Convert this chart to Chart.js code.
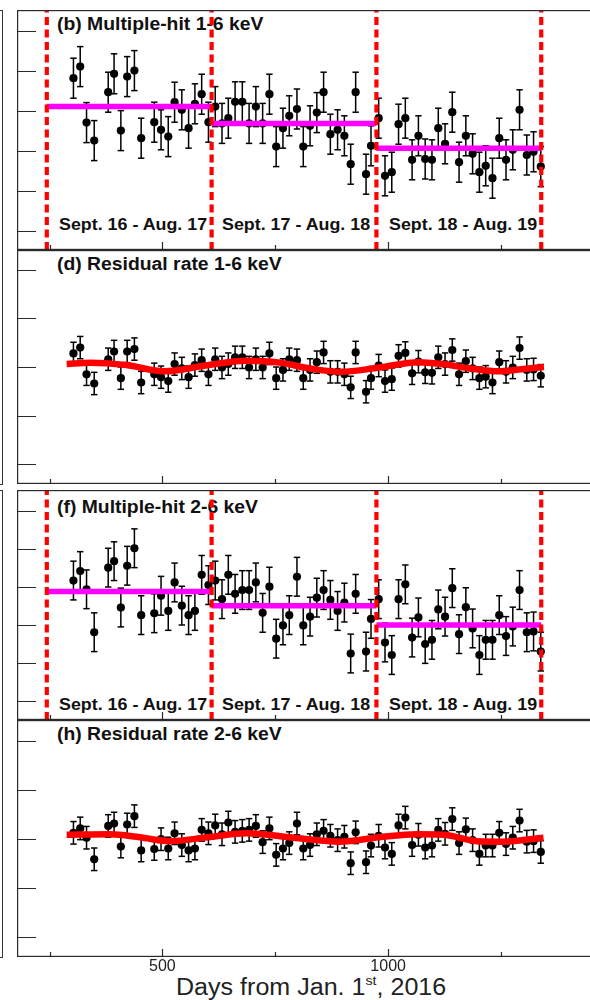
<!DOCTYPE html>
<html>
<head>
<meta charset="utf-8">
<script src="https://cdn.jsdelivr.net/npm/chart.js@4.4.1/dist/chart.umd.min.js"></script>
<style>
  html, body { margin: 0; padding: 0; background: #fff; }
  body { position: relative; width: 590px; height: 1000px; overflow: hidden;
         font-family: "Liberation Sans", Arial, Helvetica, sans-serif; }
  canvas { position: absolute; left: 17px; z-index: 2; }
  .nb { position: absolute; left: -21px; width: 22px; border: 1px solid #333; z-index: 0; }
  .txt { position: absolute; z-index: 1; white-space: nowrap; line-height: 1; color: #111;
         transform-origin: 0 0; }
  .title { font-weight: bold; font-size: 18px; transform: scaleX(1.075); }
  .period { font-weight: bold; font-size: 17px; transform: scaleX(1.05); }
  .axis { font-size: 23px; color: #222; transform: scaleX(1.09); }
  .axis span { font-size: 13px; position: relative; top: -10px; }
</style>
</head>
<body>
<div class="nb" style="top:10px;height:473px"></div>
<div class="nb" style="top:490px;height:466px"></div>

<div class="txt title" style="left:57px;top:14.8px">(b) Multiple-hit 1-6 keV</div>
<div class="txt title" style="left:57px;top:254.8px">(d) Residual rate 1-6 keV</div>
<div class="txt title" style="left:57px;top:497.8px">(f) Multiple-hit 2-6 keV</div>
<div class="txt title" style="left:57px;top:724.8px">(h) Residual rate 2-6 keV</div>

<div class="txt period" style="left:59px;top:216.3px">Sept. 16 - Aug. 17</div>
<div class="txt period" style="left:222px;top:216.3px">Sept. 17 - Aug. 18</div>
<div class="txt period" style="left:389px;top:216.3px">Sept. 18 - Aug. 19</div>
<div class="txt period" style="left:59px;top:696.3px">Sept. 16 - Aug. 17</div>
<div class="txt period" style="left:222px;top:696.3px">Sept. 17 - Aug. 18</div>
<div class="txt period" style="left:389px;top:696.3px">Sept. 18 - Aug. 19</div>

<div class="txt axis" style="left:176px;top:975.5px">Days from Jan. 1<span>st</span>, 2016</div>

<canvas id="panelB" width="587" height="240" style="top:10px"></canvas>
<canvas id="panelD" width="587" height="234" style="top:250px"></canvas>
<canvas id="panelF" width="587" height="230" style="top:490px"></canvas>
<canvas id="panelH" width="587" height="267" style="top:720px"></canvas>

<script>
// ---- time axis (days from Jan. 1st, 2016) ----
const X_MIN = 178, X_MAX = 1478;
const X_MAJOR_TICKS = [500, 1000];
const X_MINOR_TICKS = [250, 750, 1250];
const X_LABELS = [500, 1000];
// starts of Sept. 2016, 2017, 2018, 2019
const YEAR_EDGES = [244, 609, 974, 1339];

// bin centres
const DAYS = [303, 318, 332, 349, 380, 393, 408, 422, 438, 453,
              482, 497, 513, 527, 543, 558, 572, 587, 602, 617,
              632, 646, 661, 677, 692, 707, 722, 737, 752, 767,
              781, 798, 812, 827, 842, 857, 872, 888, 903, 917,
              928, 951, 962, 979, 993, 1008, 1023, 1038, 1053, 1067,
              1082, 1097, 1111, 1126, 1142, 1157, 1172, 1187, 1202, 1216,
              1231, 1246, 1261, 1276, 1291, 1307, 1322, 1338];

// (b) multiple-hit rate, 1-6 keV
const RATE_1_6 = [4.82, 5.11, 3.71, 3.26, 4.47, 4.93, 3.51, 4.86, 5.01, 3.32,
                  3.72, 3.53, 3.36, 4.22, 4.03, 3.57, 4.18, 4.42, 3.72, 4.11,
                  3.69, 3.82, 4.23, 4.23, 3.69, 4.11, 3.69, 4.42, 3.11, 3.57,
                  3.88, 4.05, 3.11, 3.63, 3.96, 4.47, 3.42, 3.53, 3.38, 2.67,
                  4.47, 2.42, 3.13, 3.82, 2.38, 2.47, 3.67, 3.82, 2.78, 3.38,
                  2.80, 2.78, 3.57, 3.18, 3.97, 2.72, 3.38, 2.93, 2.47, 2.63,
                  2.32, 3.32, 2.78, 3.03, 4.03, 2.90, 2.98, 2.61];
const ERR_1_6 = [0.5, 0.5, 0.5, 0.5, 0.5, 0.5, 0.5, 0.5, 0.5, 0.5,
                 0.5, 0.5, 0.5, 0.5, 0.5, 0.5, 0.5, 0.5, 0.5, 0.5,
                 0.5, 0.5, 0.5, 0.5, 0.5, 0.5, 0.5, 0.5, 0.5, 0.5,
                 0.5, 0.5, 0.5, 0.5, 0.5, 0.5, 0.5, 0.5, 0.5, 0.5,
                 0.5, 0.5, 0.5, 0.5, 0.5, 0.5, 0.5, 0.5, 0.5, 0.5,
                 0.5, 0.5, 0.5, 0.5, 0.5, 0.5, 0.5, 0.5, 0.5, 0.5,
                 0.5, 0.5, 0.5, 0.5, 0.5, 0.5, 0.5, 0.5];
const YEAR_MEAN_1_6 = [4.11, 3.69, 3.07];

// (d) residual rate, 1-6 keV
const RESID_1_6 = [0.28, 0.40, -0.15, -0.34, 0.16, 0.32, -0.23, 0.32, 0.37, -0.32,
                   -0.15, -0.21, -0.29, 0.06, -0.03, -0.21, 0.04, 0.14, -0.15, 0.16,
                   -0.01, 0.06, 0.20, 0.20, -0.01, 0.16, -0.01, 0.28, -0.23, -0.06,
                   0.16, 0.14, -0.23, -0.06, 0.10, 0.30, -0.10, -0.10, -0.15, -0.42,
                   0.30, -0.51, -0.23, 0.03, -0.29, -0.25, 0.23, 0.29, -0.13, 0.11,
                   -0.11, -0.12, 0.20, 0.06, 0.35, -0.15, 0.12, -0.03, -0.23, -0.20,
                   -0.32, 0.10, -0.10, -0.01, 0.39, -0.06, -0.05, -0.18];
const RESID_ERR_1_6 = [0.23, 0.23, 0.23, 0.23, 0.23, 0.23, 0.23, 0.23, 0.23, 0.23,
                       0.23, 0.23, 0.23, 0.23, 0.23, 0.23, 0.23, 0.23, 0.23, 0.23,
                       0.23, 0.23, 0.23, 0.23, 0.23, 0.23, 0.23, 0.23, 0.23, 0.23,
                       0.23, 0.23, 0.23, 0.23, 0.23, 0.23, 0.23, 0.23, 0.23, 0.23,
                       0.23, 0.23, 0.23, 0.23, 0.23, 0.23, 0.23, 0.23, 0.23, 0.23,
                       0.23, 0.23, 0.23, 0.23, 0.23, 0.23, 0.23, 0.23, 0.23, 0.23,
                       0.23, 0.23, 0.23, 0.23, 0.23, 0.23, 0.23, 0.23];
const FIT_DAYS_1_6 = [288, 340, 420, 505, 595, 685, 760, 827, 895, 980, 1067, 1120, 1182, 1245, 1290, 1345];
const FIT_1_6 = [0.06, 0.09, 0.04, -0.09, 0.03, 0.13, 0.09, -0.03, -0.10, -0.01, 0.10, 0.06, -0.03, -0.09, -0.05, 0.00];

// (f) multiple-hit rate, 2-6 keV
const RATE_2_6 = [4.17, 4.42, 3.94, 2.81, 4.51, 4.68, 3.46, 4.56, 5.02, 3.26,
                  3.31, 3.77, 3.37, 4.12, 3.51, 3.26, 3.37, 4.32, 4.05, 4.17,
                  3.68, 4.32, 3.82, 3.92, 3.92, 4.12, 3.32, 4.01, 2.64, 2.99,
                  3.26, 4.27, 2.99, 3.22, 3.72, 3.92, 3.66, 3.37, 3.59, 2.25,
                  3.82, 2.30, 3.16, 3.68, 2.54, 2.21, 3.68, 4.07, 2.67, 3.20,
                  2.50, 2.61, 3.41, 3.22, 3.97, 2.76, 3.47, 2.91, 2.21, 2.61,
                  2.61, 3.26, 2.71, 2.96, 3.92, 2.81, 2.83, 2.30];
const ERR_2_6 = [0.51, 0.51, 0.51, 0.51, 0.51, 0.51, 0.51, 0.51, 0.51, 0.51,
                 0.51, 0.51, 0.51, 0.51, 0.51, 0.51, 0.51, 0.51, 0.51, 0.51,
                 0.51, 0.51, 0.51, 0.51, 0.51, 0.51, 0.51, 0.51, 0.51, 0.51,
                 0.51, 0.51, 0.51, 0.51, 0.51, 0.51, 0.51, 0.51, 0.51, 0.51,
                 0.51, 0.51, 0.51, 0.51, 0.51, 0.51, 0.51, 0.51, 0.51, 0.51,
                 0.51, 0.51, 0.51, 0.51, 0.51, 0.51, 0.51, 0.51, 0.51, 0.51,
                 0.51, 0.51, 0.51, 0.51, 0.51, 0.51, 0.51, 0.51];
const YEAR_MEAN_2_6 = [3.88, 3.51, 3.00];

// (h) residual rate, 2-6 keV
const RESID_2_6 = [0.12, 0.21, 0.02, -0.42, 0.26, 0.31, -0.16, 0.29, 0.46, -0.24,
                   -0.21, -0.01, -0.20, 0.11, -0.13, -0.24, -0.20, 0.18, 0.11, 0.27,
                   0.09, 0.33, 0.14, 0.16, 0.18, 0.26, -0.07, 0.21, -0.33, -0.20,
                   -0.09, 0.31, -0.20, -0.13, 0.09, 0.16, 0.06, -0.03, 0.04, -0.50,
                   0.13, -0.48, -0.14, 0.06, -0.18, -0.31, 0.27, 0.43, -0.13, 0.08,
                   -0.18, -0.14, 0.18, 0.10, 0.40, -0.09, 0.19, -0.03, -0.31, -0.14,
                   -0.14, 0.12, -0.11, 0.02, 0.37, -0.06, -0.05, -0.27];
const RESID_ERR_2_6 = [0.23, 0.23, 0.23, 0.23, 0.23, 0.23, 0.23, 0.23, 0.23, 0.23,
                       0.23, 0.23, 0.23, 0.23, 0.23, 0.23, 0.23, 0.23, 0.23, 0.23,
                       0.23, 0.23, 0.23, 0.23, 0.23, 0.23, 0.23, 0.23, 0.23, 0.23,
                       0.23, 0.23, 0.23, 0.23, 0.23, 0.23, 0.23, 0.23, 0.23, 0.23,
                       0.23, 0.23, 0.23, 0.23, 0.23, 0.23, 0.23, 0.23, 0.23, 0.23,
                       0.23, 0.23, 0.23, 0.23, 0.23, 0.23, 0.23, 0.23, 0.23, 0.23,
                       0.23, 0.23, 0.23, 0.23, 0.23, 0.23, 0.23, 0.23];
const FIT_DAYS_2_6 = [288, 384, 450, 517, 600, 687, 790, 894, 980, 1064, 1123, 1196, 1255, 1344];
const FIT_2_6 = [0.08, 0.09, 0.03, -0.05, 0.03, 0.11, 0.02, -0.06, 0.03, 0.09, 0.08, -0.05, -0.06, 0.02];

// y ranges and major tick values of each pad
const Y_RANGE_RATE_1_6 = [0.525, 6.525];
const Y_RANGE_RATE_2_6 = [0.5, 6.553];
const Y_RANGE_RESID_1_6 = [-2.412, 2.412];
const Y_RANGE_RESID_2_6 = [-2.414, 2.422];
const Y_TICKS_RATE = [1, 2, 3, 4, 5, 6];
const Y_TICKS_RESID = [-2, -1, 0, 1, 2];

// ---- drawing helpers ----
Chart.defaults.font.family = '"Liberation Sans", Arial, Helvetica, sans-serif';

// pad frame with inward ticks (left and bottom), ROOT style
const padFrame = {
  id: 'padFrame',
  afterDatasetsDraw(chart, args, opts) {
    const { ctx, chartArea: a, scales: { x, y } } = chart;
    ctx.save();
    ctx.strokeStyle = '#2a2a2a';
    ctx.lineWidth = 1.2;
    ctx.strokeRect(a.left + 0.6, a.top + 0.6, a.right - a.left - 1.2, a.bottom - a.top - 1.2);
    ctx.beginPath();
    for (const v of opts.yTicks) {
      const py = Math.round(y.getPixelForValue(v)) + 0.5;
      ctx.moveTo(a.left, py); ctx.lineTo(a.left + 19, py);
    }
    for (const v of X_MAJOR_TICKS) {
      const px = Math.round(x.getPixelForValue(v)) + 0.5;
      ctx.moveTo(px, a.bottom); ctx.lineTo(px, a.bottom - 8);
    }
    for (const v of X_MINOR_TICKS) {
      const px = Math.round(x.getPixelForValue(v)) + 0.5;
      ctx.moveTo(px, a.bottom); ctx.lineTo(px, a.bottom - 5);
    }
    ctx.stroke();
    ctx.restore();
  }
};

function errorBarPoints(days, vals, errs) {
  const out = [];
  days.forEach((d, i) => {
    out.push({ x: d, y: vals[i] - errs[i] }, { x: d, y: vals[i] + errs[i] }, { x: d, y: null });
  });
  return out;
}

function buildDatasets(p) {
  const sets = [];
  sets.push({
    data: errorBarPoints(DAYS, p.values, p.errors),
    borderColor: '#000', borderWidth: 1.5, spanGaps: false,
    pointStyle: 'line', pointRadius: 3.2, pointBorderWidth: 1.5, pointBorderColor: '#000',
    order: 3
  });
  sets.push({
    data: DAYS.map((d, i) => ({ x: d, y: p.values[i] })),
    showLine: false, pointRadius: 4.1, pointBackgroundColor: '#000',
    pointBorderWidth: 0, borderColor: '#000', order: 2
  });
  if (p.yearMeans) {
    p.yearMeans.forEach((m, i) => {
      sets.push({
        data: [{ x: YEAR_EDGES[i], y: m }, { x: YEAR_EDGES[i + 1], y: m }],
        borderColor: '#ff00ff', borderWidth: 5.5, borderCapStyle: 'butt',
        pointRadius: 0, order: 1
      });
    });
    YEAR_EDGES.forEach(e => {
      sets.push({
        data: [{ x: e, y: p.yRange[0] }, { x: e, y: p.yRange[1] }],
        borderColor: '#ff0000', borderWidth: 4.2, borderDash: [8, 4.5], borderCapStyle: 'butt',
        pointRadius: 0, order: 0
      });
    });
  }
  if (p.fitDays) {
    sets.push({
      data: p.fitDays.map((d, i) => ({ x: d, y: p.fit[i] })),
      borderColor: '#ff0000', borderWidth: 6.5, cubicInterpolationMode: 'monotone',
      pointRadius: 0, order: 0
    });
  }
  return sets;
}

function drawPad(canvasId, p) {
  const xScale = {
    type: 'linear', min: X_MIN, max: X_MAX, display: !!p.showDayLabels,
    grid: { display: false, drawTicks: false }, border: { display: false },
    ticks: { color: '#222', font: { size: 16 }, padding: 0, maxRotation: 0, autoSkip: false,
             callback: v => String(v) },
    afterBuildTicks: s => { s.ticks = X_LABELS.map(v => ({ value: v })); }
  };
  if (p.showDayLabels) xScale.afterFit = s => { s.height = 30; };
  return new Chart(document.getElementById(canvasId), {
    type: 'line',
    data: { datasets: buildDatasets(p) },
    options: {
      responsive: false, animation: false, devicePixelRatio: 1,
      layout: { padding: 0, autoPadding: false },
      plugins: { legend: { display: false }, tooltip: { enabled: false },
                 padFrame: { yTicks: p.yTicks } },
      scales: {
        x: xScale,
        y: { type: 'linear', min: p.yRange[0], max: p.yRange[1], display: false }
      }
    },
    plugins: [padFrame]
  });
}

drawPad('panelB', { values: RATE_1_6, errors: ERR_1_6, yearMeans: YEAR_MEAN_1_6,
                    yRange: Y_RANGE_RATE_1_6, yTicks: Y_TICKS_RATE });
drawPad('panelD', { values: RESID_1_6, errors: RESID_ERR_1_6, fitDays: FIT_DAYS_1_6, fit: FIT_1_6,
                    yRange: Y_RANGE_RESID_1_6, yTicks: Y_TICKS_RESID });
drawPad('panelF', { values: RATE_2_6, errors: ERR_2_6, yearMeans: YEAR_MEAN_2_6,
                    yRange: Y_RANGE_RATE_2_6, yTicks: Y_TICKS_RATE });
drawPad('panelH', { values: RESID_2_6, errors: RESID_ERR_2_6, fitDays: FIT_DAYS_2_6, fit: FIT_2_6,
                    yRange: Y_RANGE_RESID_2_6, yTicks: Y_TICKS_RESID, showDayLabels: true });
</script>
</body>
</html>
